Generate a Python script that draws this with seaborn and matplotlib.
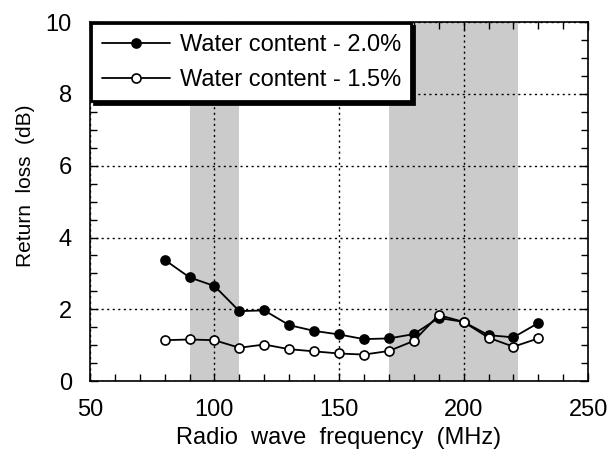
import matplotlib
matplotlib.use("Agg")
import matplotlib.pyplot as plt
import seaborn as sns
import pandas as pd
from matplotlib.ticker import MultipleLocator

freq = [80, 90, 100, 110, 120, 130, 140, 150, 160, 170, 180, 190, 200, 210, 220, 230]
wc_20 = [3.38, 2.89, 2.65, 1.95, 1.97, 1.56, 1.40, 1.30, 1.17, 1.19, 1.31, 1.76, 1.65, 1.28, 1.22, 1.62]
wc_15 = [1.14, 1.16, 1.14, 0.93, 1.02, 0.89, 0.83, 0.77, 0.74, 0.84, 1.12, 1.84, 1.65, 1.21, 0.96, 1.19]
labels = ["Water content - 2.0%", "Water content - 1.5%"]
bands = [(90, 110), (170, 222)]

sns.set_theme(style="white")
plt.rcParams['font.family'] = ['Liberation Sans', 'DejaVu Sans']
plt.rcParams.update({"text.color": "black", "axes.labelcolor": "black",
                     "xtick.color": "black", "ytick.color": "black"})

df = pd.DataFrame({
    "freq": freq * 2,
    "val": wc_20 + wc_15,
    "series": [labels[0]] * len(freq) + [labels[1]] * len(freq),
})

fig = plt.figure(figsize=(6.07, 4.5), dpi=100)
ax = fig.add_axes([0.148, 0.153, 0.821, 0.798])

for a, b in bands:
    ax.axvspan(a, b, color="#cbcbcb", lw=0, zorder=0)

ax.grid(True, which="major", color="black", linestyle=(0, (1.5, 2.5)), linewidth=1.0, zorder=1)

for lab, face in zip(labels, ["black", "white"]):
    sub = df[df.series == lab]
    sns.lineplot(data=sub, x="freq", y="val", ax=ax, color="black", marker="o",
                 markersize=6.5, markerfacecolor=face, markeredgecolor="black",
                 markeredgewidth=1.2, linewidth=1.3, label=lab, zorder=3)

ax.set_xlim(50, 250)
ax.set_ylim(0, 10)
ax.xaxis.set_major_locator(MultipleLocator(50))
ax.xaxis.set_minor_locator(MultipleLocator(10))
ax.yaxis.set_major_locator(MultipleLocator(2))
ax.yaxis.set_minor_locator(MultipleLocator(0.5))
ax.tick_params(which="both", direction="in", top=True, right=True, bottom=True, left=True,
               color="black", width=1)
ax.tick_params(which="major", length=6, labelsize=17, pad=13)
ax.tick_params(which="minor", length=5)
for s in ax.spines.values():
    s.set_color("black")
    s.set_linewidth(1.2)

ax.set_xlabel("Radio  wave  frequency  (MHz)", fontsize=17, labelpad=4)
ax.set_ylabel("Return  loss  (dB)", fontsize=15, labelpad=12)
ax.yaxis.set_label_coords(-0.11, 0.545)

leg = ax.legend(loc="upper left", bbox_to_anchor=(0.0, 1.0), fontsize=17, frameon=True,
                fancybox=False, edgecolor="black", framealpha=1, borderaxespad=0.05,
                handlelength=2.9, handletextpad=0.4, borderpad=0.45, labelspacing=0.55,
                shadow={"color": "black", "alpha": 1.0})
leg.get_frame().set_linewidth(2)

fig.savefig("out.png", dpi=100)
